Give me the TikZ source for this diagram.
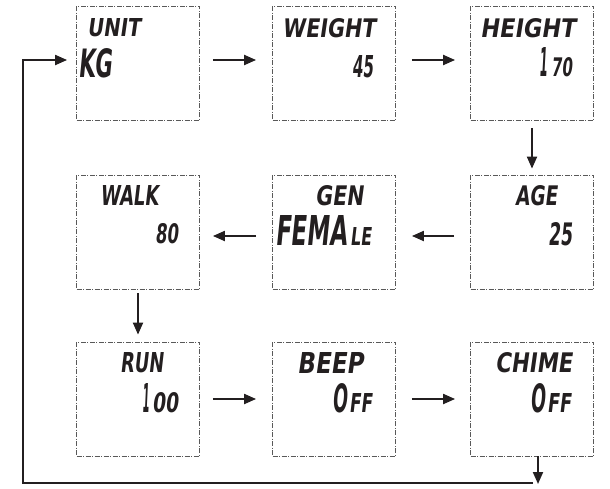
\documentclass[tikz,border=0pt]{standalone}
\usepackage{fontspec}
\usepackage{graphicx}
\usetikzlibrary{arrows.meta}
\newfontfamily\lcdfont[FakeSlant=0.18]{DejaVu Sans}
\newcommand\lcdt[3]{\resizebox{#1pt}{#2pt}{\lcdfont\bfseries #3}}
\definecolor{ink}{HTML}{231F20}
\tikzset{
  lcdbox/.style={draw=black!65, line width=0.8pt, dash pattern=on 5pt off 1.5pt on 1pt off 1.5pt,
    minimum width=123pt, minimum height=114pt, inner sep=0pt},
  lcdtxt/.style={anchor=base west, inner sep=0pt, text=ink},
  arr/.style={draw=ink, line width=2pt, -{Triangle[length=12pt,width=10pt]}},
}
\begin{document}
\begin{tikzpicture}[x=1pt,y=-1pt]
\useasboundingbox (0,0) rectangle (610,488);
% boxes
\node[lcdbox] (unit)   at (138,63)  {};
\node[lcdbox] (weight) at (334,63)  {};
\node[lcdbox] (height) at (532,63)  {};
\node[lcdbox] (walk)   at (138,232) {};
\node[lcdbox] (gen)    at (334,232) {};
\node[lcdbox] (age)    at (532,232) {};
\node[lcdbox] (run)    at (138,399) {};
\node[lcdbox] (beep)   at (334,399) {};
\node[lcdbox] (chime)  at (532,399) {};
% texts
\node[lcdtxt] (t1a) at (87,36)  {\lcdt{53}{18}{UNIT}};
\node[lcdtxt] (t1b) at (78,77)  {\lcdt{34}{29}{KG}};
\node[lcdtxt] (t2a) at (282,37) {\lcdt{93}{19}{WEIGHT}};
\node[lcdtxt] (t2b) at (352,77) {\lcdt{21}{22}{45}};
\node[lcdtxt] (t3a) at (480,37) {\lcdt{95}{19}{HEIGHT}};
\node[lcdtxt] (t3b) at (539,76) {\lcdt{8}{29}{1}\hspace{4pt}\lcdt{21}{19}{70}};
\node[lcdtxt] (t4a) at (100,205) {\lcdt{58}{20}{WALK}};
\node[lcdtxt] (t4b) at (155,243) {\lcdt{23}{20}{80}};
\node[lcdtxt] (t5a) at (315,205) {\lcdt{48}{20}{GEN}};
\node[lcdtxt] (t5b) at (275,245) {\lcdt{72}{30}{FEMA}\hspace{3pt}\lcdt{21}{18}{LE}};
\node[lcdtxt] (t6a) at (515,205) {\lcdt{42}{20}{AGE}};
\node[lcdtxt] (t6b) at (548,245) {\lcdt{24}{23}{25}};
\node[lcdtxt] (t7a) at (120,372) {\lcdt{43}{20}{RUN}};
\node[lcdtxt] (t7b) at (142,412) {\lcdt{7}{29}{1}\hspace{3pt}\lcdt{26}{20}{00}};
\node[lcdtxt] (t8a) at (297,373) {\lcdt{66}{21}{BEEP}};
\node[lcdtxt] (t8b) at (332,412) {\lcdt{15}{29}{O}\hspace{2pt}\lcdt{23}{19}{FF}};
\node[lcdtxt] (t9a) at (495,372) {\lcdt{77}{20}{CHIME}};
\node[lcdtxt] (t9b) at (530,412) {\lcdt{15}{29}{O}\hspace{2pt}\lcdt{24}{19}{FF}};
% arrows
\draw[arr, shorten <=13pt, shorten >=16pt] ([yshift=3pt]unit.east) -- ([yshift=3pt]weight.west);
\draw[arr, shorten <=16pt, shorten >=15pt] ([yshift=3pt]weight.east) -- ([yshift=3pt]height.west);
\draw[arr, shorten <=8pt, shorten >=6pt] (height.south) -- (age.north);
\draw[arr, shorten <=16pt, shorten >=16pt] ([yshift=-4pt]age.west) -- ([yshift=-4pt]gen.east);
\draw[arr, shorten <=16pt, shorten >=13pt] ([yshift=-4pt]gen.west) -- ([yshift=-4pt]walk.east);
\draw[arr, shorten <=4pt, shorten >=7pt] (walk.south) -- (run.north);
\draw[arr, shorten <=13pt, shorten >=16pt] (run.east) -- (beep.west);
\draw[arr, shorten <=16pt, shorten >=15pt] (beep.east) -- (chime.west);
% feedback loop
\coordinate (fbtip) at (538,484);
\coordinate (fbr) at (533,483);
\coordinate (fbl) at (23,483);
\coordinate (fbt) at (23,60);
\draw[arr] ([xshift=6pt]chime.south) -- (fbtip);
\draw[arr, line join=miter, shorten >=9pt] (fbr) -- (fbl) -- (fbt) -- (unit.west |- fbt);
\end{tikzpicture}
\end{document}
